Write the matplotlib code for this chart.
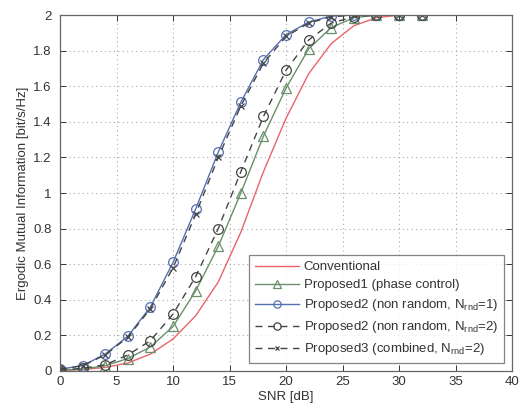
import numpy as np
import matplotlib
matplotlib.use('Agg')
import matplotlib.pyplot as plt

plt.rcParams['font.family'] = ['Liberation Sans', 'DejaVu Sans']
plt.rcParams['mathtext.fontset'] = 'custom'
plt.rcParams['mathtext.rm'] = 'Liberation Sans'
plt.rcParams['mathtext.it'] = 'Liberation Sans:italic'

# SNR points [dB]
snr = [0, 2, 4, 6, 8, 10, 12, 14, 16, 18, 20, 22, 24, 26, 28, 30, 32]
snr_conv = [0, 2, 4, 6, 8, 10, 12, 14, 16, 18, 20, 22, 24, 26, 28, 30, 32, 34]

conventional = [0.003, 0.008, 0.02, 0.045, 0.095, 0.18, 0.31, 0.50, 0.78, 1.12,
                1.42, 1.67, 1.84, 1.94, 1.985, 2.0, 2.0, 2.0]
proposed1 = [0.005, 0.01, 0.03, 0.07, 0.135, 0.25, 0.45, 0.70, 1.0, 1.32,
             1.59, 1.81, 1.93, 1.985, 2.0, 2.0, 2.0]
proposed2_n1 = [0.01, 0.03, 0.095, 0.195, 0.36, 0.61, 0.91, 1.23, 1.51, 1.75,
                1.89, 1.96, 1.995, 2.0, 2.0, 2.0, 2.0]
proposed2_n2 = [0.005, 0.015, 0.035, 0.09, 0.17, 0.32, 0.53, 0.80, 1.12, 1.43,
                1.69, 1.86, 1.955, 1.99, 2.0, 2.0, 2.0]
proposed3 = [0.01, 0.03, 0.09, 0.19, 0.35, 0.58, 0.88, 1.20, 1.49, 1.73,
             1.88, 1.955, 1.99, 2.0, 2.0, 2.0, 2.0]

fig = plt.figure(figsize=(5.22, 4.07), dpi=100)
ax = fig.add_axes([0.115, 0.0885, 0.866, 0.8745])

ax.plot(snr_conv, conventional, color='#e8646a', lw=1.0, label='Conventional')
ax.plot(snr, proposed1, color='#6a8f6a', lw=1.0, marker='^', ms=7, mfc='none',
        mew=0.9, label='Proposed1 (phase control)')
ax.plot(snr, proposed2_n1, color='#5570b0', lw=1.0, marker='o', ms=7, mfc='none',
        mew=0.9, label=r'Proposed2 (non random, N$_{\rm rnd}$=1)')
ax.plot(snr, proposed2_n2, color='#444444', lw=1.0, ls=(0, (5, 4)), marker='o', ms=7,
        mfc='none', mew=0.9, label=r'Proposed2 (non random, N$_{\rm rnd}$=2)')
ax.plot(snr, proposed3, color='#444444', lw=1.0, ls=(0, (5, 4)), marker='x', ms=4.5,
        mew=0.9, label=r'Proposed3 (combined, N$_{\rm rnd}$=2)')

ax.set_xlim(0, 40)
ax.set_ylim(0, 2)
ax.set_xticks(np.arange(0, 41, 5))
ax.set_yticks(np.arange(0, 2.01, 0.2))
ax.set_yticklabels(['0', '0.2', '0.4', '0.6', '0.8', '1', '1.2', '1.4', '1.6', '1.8', '2'])
ax.grid(True, ls=(0, (1, 3)), color='#aaaaaa', lw=0.8)
ax.tick_params(direction='in', top=True, right=True, labelsize=9.5, colors='#333333',
               length=4, width=0.7)
ax.tick_params(axis='y', pad=6)
for s in ax.spines.values():
    s.set_color('#666666')
    s.set_linewidth(0.9)

ax.set_xlabel('SNR [dB]', fontsize=9.5, color='#333333', labelpad=2)
ax.set_ylabel('Ergodic Mutual Information [bit/s/Hz]', fontsize=9.5, color='#333333',
              labelpad=3)

leg = ax.legend(loc='lower right', fontsize=9.5, frameon=True, fancybox=False,
                edgecolor='#666666', borderaxespad=0.6, handlelength=3.3,
                labelspacing=0.45, handletextpad=0.4, borderpad=0.45,
                markerscale=0.75)
leg.get_frame().set_linewidth(0.9)
for t in leg.get_texts():
    t.set_color('#333333')

fig.savefig('out.png', dpi=100)
